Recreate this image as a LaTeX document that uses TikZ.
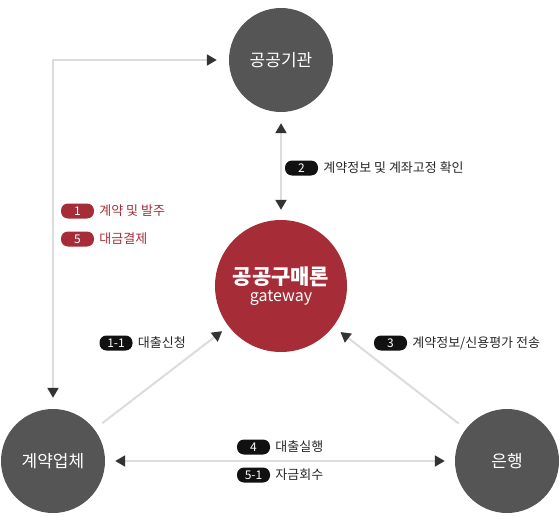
\documentclass[tikz,border=0pt]{standalone}
\usepackage{fontspec}
\setmainfont{Noto Sans CJK KR}
\usepackage{xcolor}
\usetikzlibrary{arrows.meta, positioning, math}
\definecolor{mygray}{RGB}{85,85,85}
\definecolor{myred}{RGB}{166,45,55}
\definecolor{myline}{RGB}{220,220,220}
\definecolor{mytip}{RGB}{51,51,51}
\definecolor{myblack}{RGB}{17,17,17}

\tikzset{
  party/.style={circle, fill=mygray, minimum size=104pt, inner sep=0, text=white, font=\fontsize{17}{17}\selectfont},
  hub/.style={circle, fill=myred, minimum size=132pt, inner sep=0, text=white, align=center},
  flow/.style={draw=myline, line width=2pt},
  badge/.style={rounded corners=7pt, fill=myblack, minimum width=33pt, minimum height=15pt, inner sep=0, text=white, font=\fontsize{12}{12}\selectfont},
  redbadge/.style={badge, fill=myred},
  note/.style={inner sep=0, font=\fontsize{13}{13}\selectfont, text=black!85},
}

\begin{document}
\begin{tikzpicture}[x=1pt, y=-1pt, >={Triangle[length=10pt,width=11pt,color=mytip]}]
\tikzmath{
\r=52;
}
\useasboundingbox (0,0) rectangle (560,530);

% the four parties
\node[party] (agency) at (281,60) {공공기관};
\node[party] (firm) at (53,461) {계약업체};
\node[party] (bank) at (507,461) {은행};
\node[hub] (hub) at (281,286) {{\fontsize{21}{23}\selectfont\bfseries 공공구매론}\\[3pt]{\fontsize{16}{17}\selectfont gateway}};

% flows
\draw[flow, <->, shorten <=12pt, shorten >=11pt] (agency) -| (firm);
\draw[flow, <->, shorten <=11pt, shorten >=10pt] (agency) -- (hub);
\draw[flow, ->, shorten <=10pt, shorten >=8pt] (firm) -- (hub);
\draw[flow, ->, shorten <=9pt, shorten >=9pt] (bank) -- (hub);
\draw[flow, <->, shorten <=10pt, shorten >=10pt] (firm) -- (bank);

% steps
\node[redbadge] (b1) at (77.5,211) {1};
\node[note, text=myred, right=5pt of b1] (t1) {계약 및 발주};
\node[redbadge] (b5) at (77.5,239) {5};
\node[note, text=myred, right=5pt of b5] (t5) {대금결제};
\node[badge] (b2) at (301.5,168) {2};
\node[note, right=5pt of b2] (t2) {계약정보 및 계좌고정 확인};
\node[badge] (b11) at (116,343) {1-1};
\node[note, right=5pt of b11] (t11) {대출신청};
\node[badge] (b3) at (390.5,343) {3};
\node[note, right=5pt of b3] (t3) {계약정보/신용평가 전송};
\node[badge] (b4) at (253.5,447) {4};
\node[note, right=5pt of b4] (t4) {대출실행};
\node[badge] (b51) at (253.5,475) {5-1};
\node[note, right=5pt of b51] (t51) {자금회수};
\end{tikzpicture}
\end{document}
